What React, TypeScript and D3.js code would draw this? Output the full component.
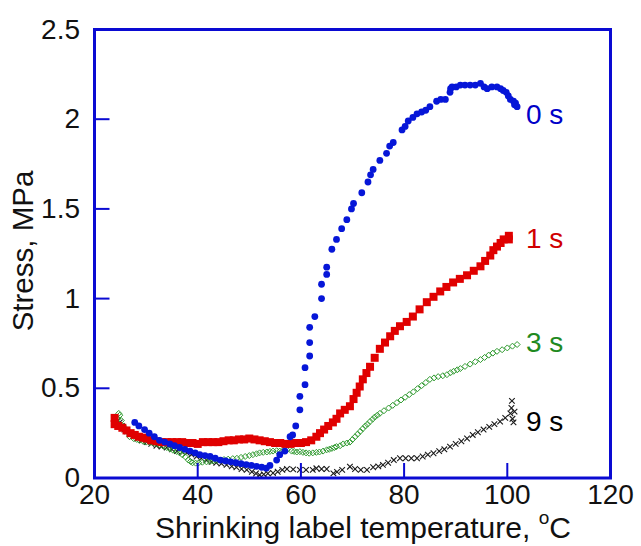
import React from 'react';
import * as d3 from 'd3';

// stress vs temperature, one list of [T (°C), stress (MPa)] per holding time
const series0s: [number, number][] = [
  [27.8, 0.31], [28.6, 0.29], [29.7, 0.27], [30.6, 0.25], [31.6, 0.23], [32.6, 0.21], [33.6, 0.2],
  [34.6, 0.19], [35.5, 0.18], [36.5, 0.17], [37.5, 0.16], [38.5, 0.15], [39.5, 0.14], [40.4, 0.13],
  [41.4, 0.125], [42.4, 0.12], [43.4, 0.11], [44.4, 0.1], [45.4, 0.095], [46.4, 0.09], [47.4, 0.085],
  [48.4, 0.08], [49.4, 0.075], [50.4, 0.07], [51.4, 0.065], [52.4, 0.06], [53.3, 0.055], [54.0, 0.07],
  [55.3, 0.1], [55.9, 0.13], [56.9, 0.15], [57.9, 0.23], [58.4, 0.24], [59.0, 0.29], [59.8, 0.38],
  [59.8, 0.455], [60.8, 0.52], [60.8, 0.615], [61.7, 0.68], [61.7, 0.755], [61.7, 0.84], [62.7, 0.9],
  [64.0, 1.0], [64.0, 1.08], [65.0, 1.135], [65.0, 1.175], [66.0, 1.275], [66.9, 1.33], [67.9, 1.39],
  [68.9, 1.44], [69.8, 1.5], [70.2, 1.53], [71.8, 1.59], [73.0, 1.65], [73.5, 1.69], [74.0, 1.72],
  [75.3, 1.77], [76.6, 1.81], [77.2, 1.85], [77.9, 1.87], [79.6, 1.94], [80.2, 1.96], [80.8, 1.99],
  [81.7, 2.01], [82.5, 2.03], [83.4, 2.04], [84.2, 2.05], [85.0, 2.07], [86.3, 2.1], [87.1, 2.11],
  [88.0, 2.11], [88.9, 2.15], [89.0, 2.17], [89.3, 2.18], [90.1, 2.18], [90.9, 2.19], [91.8, 2.19],
  [92.8, 2.19], [93.8, 2.19], [94.8, 2.2], [95.5, 2.18], [96.1, 2.17], [97.0, 2.18], [98.0, 2.18],
  [98.7, 2.17], [99.2, 2.16], [99.8, 2.15], [100.2, 2.13], [100.6, 2.11], [101.2, 2.1], [101.6, 2.09],
  [101.4, 2.08], [101.9, 2.07],
];

const series1s: [number, number][] = [
  [23.9, 0.335], [23.9, 0.3], [24.6, 0.29], [25.4, 0.28], [26.2, 0.265], [27.0, 0.25], [27.8, 0.24],
  [28.6, 0.23], [29.4, 0.225], [30.1, 0.22], [31.0, 0.21], [32.0, 0.205], [33.0, 0.2], [34.0, 0.2],
  [35.0, 0.2], [36.0, 0.2], [37.0, 0.2], [38.0, 0.195], [39.0, 0.195], [40.0, 0.19], [41.0, 0.2],
  [42.0, 0.2], [43.0, 0.2], [44.0, 0.2], [45.0, 0.205], [46.0, 0.21], [47.0, 0.21], [48.0, 0.215],
  [49.0, 0.215], [50.0, 0.22], [51.0, 0.215], [52.0, 0.21], [53.0, 0.205], [54.0, 0.2], [55.0, 0.195],
  [56.0, 0.195], [57.0, 0.19], [58.0, 0.19], [59.0, 0.195], [60.0, 0.195], [61.0, 0.2], [62.0, 0.21],
  [63.0, 0.23], [63.7, 0.25], [64.5, 0.27], [65.3, 0.29], [66.2, 0.31], [66.9, 0.33], [67.6, 0.36],
  [68.5, 0.38], [69.5, 0.4], [70.2, 0.44], [70.8, 0.475], [71.4, 0.51], [72.0, 0.55], [72.7, 0.585],
  [73.4, 0.62], [74.3, 0.67], [75.3, 0.72], [76.3, 0.755], [77.3, 0.79], [78.2, 0.82], [79.2, 0.846],
  [80.5, 0.87], [81.7, 0.9], [83.0, 0.94], [84.4, 0.98], [85.7, 1.01], [87.0, 1.04], [88.2, 1.065],
  [89.5, 1.09], [90.8, 1.11], [92.2, 1.13], [93.5, 1.155], [94.8, 1.18], [95.7, 1.21], [96.7, 1.24],
  [97.3, 1.27], [98.0, 1.29], [98.7, 1.31], [99.3, 1.33], [100.3, 1.35], [100.3, 1.33],
];

const series3s: [number, number][] = [
  [24.5, 0.33], [24.7, 0.36], [24.9, 0.35], [25.2, 0.32], [25.6, 0.29], [26.2, 0.26], [26.8, 0.23],
  [27.6, 0.22], [28.2, 0.215], [28.7, 0.21], [29.4, 0.205], [30.0, 0.2], [30.7, 0.198], [31.3, 0.195],
  [32.0, 0.19], [32.6, 0.185], [33.3, 0.178], [34.0, 0.17], [34.6, 0.162], [35.2, 0.155], [35.9, 0.148],
  [36.5, 0.14], [37.0, 0.13], [37.6, 0.118], [38.2, 0.1], [38.6, 0.092], [39.0, 0.085], [39.6, 0.083],
  [40.2, 0.085], [40.9, 0.088], [41.7, 0.09], [42.4, 0.092], [43.0, 0.095], [43.7, 0.098], [44.3, 0.1],
  [45.1, 0.103], [45.9, 0.105], [46.8, 0.108], [47.6, 0.11], [48.4, 0.115], [49.2, 0.12], [50.0, 0.125],
  [50.7, 0.13], [51.4, 0.135], [52.0, 0.14], [52.7, 0.143], [53.4, 0.145], [54.0, 0.148], [54.6, 0.15],
  [55.3, 0.152], [55.9, 0.15], [56.6, 0.155], [57.3, 0.157], [58.2, 0.15], [58.7, 0.148], [59.2, 0.145],
  [59.8, 0.147], [60.4, 0.143], [61.0, 0.14], [61.6, 0.138], [62.3, 0.14], [63.0, 0.143], [63.6, 0.145],
  [64.3, 0.15], [65.0, 0.157], [65.5, 0.16], [66.0, 0.165], [66.5, 0.17], [66.9, 0.175], [67.6, 0.18],
  [68.2, 0.19], [68.9, 0.195], [69.5, 0.2], [70.0, 0.215], [70.5, 0.23], [71.0, 0.245], [71.5, 0.26],
  [72.0, 0.275], [72.5, 0.29], [72.9, 0.3], [73.4, 0.315], [73.9, 0.328], [74.3, 0.34], [74.8, 0.35],
  [75.3, 0.36], [76.1, 0.375], [77.0, 0.39], [77.8, 0.405], [78.6, 0.42], [79.4, 0.435], [80.2, 0.45],
  [81.0, 0.465], [81.8, 0.48], [82.6, 0.498], [83.4, 0.515], [84.2, 0.532], [85.0, 0.55], [85.8, 0.558],
  [86.6, 0.565], [87.5, 0.57], [88.3, 0.576], [89.0, 0.587], [89.6, 0.595], [90.3, 0.603], [90.9, 0.61],
  [91.8, 0.622], [92.8, 0.635], [93.8, 0.648], [94.8, 0.66], [95.6, 0.672], [96.4, 0.685], [97.2, 0.696],
  [98.0, 0.706], [99.0, 0.715], [100.0, 0.725], [101.0, 0.735], [101.9, 0.744],
];

const series9s: [number, number][] = [
  [24.5, 0.32], [24.9, 0.31], [25.3, 0.29], [25.8, 0.27], [26.3, 0.26], [26.8, 0.25], [27.5, 0.235],
  [28.3, 0.22], [29.2, 0.21], [30.1, 0.2], [31.0, 0.19], [32.0, 0.18], [33.0, 0.175], [34.0, 0.17],
  [35.0, 0.16], [36.0, 0.15], [37.0, 0.145], [37.9, 0.14], [38.8, 0.13], [39.8, 0.12], [40.7, 0.11],
  [41.7, 0.1], [42.7, 0.09], [43.6, 0.085], [44.6, 0.08], [45.6, 0.073], [46.6, 0.065], [47.5, 0.06],
  [48.5, 0.05], [49.5, 0.045], [50.5, 0.035], [51.3, 0.025], [52.0, 0.017], [52.8, 0.02], [53.6, 0.025],
  [54.6, 0.028], [55.5, 0.035], [56.4, 0.045], [57.3, 0.05], [58.5, 0.048], [59.8, 0.045], [61.0, 0.045],
  [62.3, 0.045], [63.0, 0.054], [64.0, 0.05], [65.0, 0.05], [66.3, 0.026], [67.0, 0.034], [68.0, 0.045],
  [69.5, 0.063], [70.5, 0.05], [71.6, 0.045], [72.8, 0.045], [74.0, 0.06], [75.0, 0.065], [75.9, 0.073],
  [76.9, 0.085], [78.0, 0.1], [79.2, 0.11], [80.3, 0.11], [81.4, 0.11], [82.5, 0.11], [83.6, 0.12],
  [84.6, 0.13], [85.7, 0.138], [86.8, 0.15], [87.8, 0.16], [88.9, 0.175], [90.0, 0.19], [91.1, 0.205],
  [92.2, 0.22], [93.3, 0.24], [94.3, 0.255], [95.4, 0.27], [96.5, 0.285], [97.5, 0.3], [98.6, 0.315],
  [99.6, 0.335], [100.6, 0.36], [100.9, 0.43], [101.0, 0.33], [101.2, 0.31], [101.4, 0.37], [100.8, 0.39],
];

const xTicks = [20, 40, 60, 80, 100, 120];
const yTicks = [0, 0.5, 1, 1.5, 2, 2.5];
const seriesLabels = ['0 s', '1 s', '3 s', '9 s'];

const FONT = 'Arial, "Liberation Sans", sans-serif';
const FRAME = '#0a0ad2';

export default function App() {
  const x = d3.scaleLinear().domain([20, 120]).range([94.5, 610.5]);
  const y = d3.scaleLinear().domain([0, 2.5]).range([478, 29.5]);

  // label anchors in data units (just right of each curve's end)
  const labelPos: { text: string; s: number; color: string }[] = [
    { text: seriesLabels[0], s: 2.03, color: '#0000c8' },
    { text: seriesLabels[1], s: 1.34, color: '#d00000' },
    { text: seriesLabels[2], s: 0.76, color: '#1f8a1f' },
    { text: seriesLabels[3], s: 0.32, color: '#000000' },
  ];

  const diamond = 'M0,-3L3,0L0,3L-3,0Z';
  const cross = 'M-2.8,-2.8L2.8,2.8M-2.8,2.8L2.8,-2.8';

  return (
    <svg width={641} height={546} style={{ position: 'absolute', left: 0, top: 0, background: '#fff' }}>
      {/* data */}
      <g>
        {series9s.map(([t, s], i) => (
          <path key={'k' + i} d={cross} transform={`translate(${x(t)},${y(s)})`} stroke="#1a1a1a" strokeWidth={1.1} fill="none" />
        ))}
        {series3s.map(([t, s], i) => (
          <path key={'g' + i} d={diamond} transform={`translate(${x(t)},${y(s)})`} stroke="#2f9a2f" strokeWidth={1} fill="none" />
        ))}
        {series1s.map(([t, s], i) => (
          <rect key={'r' + i} x={x(t) - 4} y={y(s) - 4} width={8} height={8} fill="#e00000" />
        ))}
        {series0s.map(([t, s], i) => (
          <circle key={'b' + i} cx={x(t)} cy={y(s)} r={3.4} fill="#0616d8" />
        ))}
      </g>

      {/* frame and inward ticks */}
      <rect x={x(20)} y={y(2.5)} width={x(120) - x(20)} height={y(0) - y(2.5)} fill="none" stroke={FRAME} strokeWidth={3} />
      {yTicks.slice(1, -1).map((v) => (
        <line key={'yt' + v} x1={x(20)} x2={x(20) + 15} y1={y(v)} y2={y(v)} stroke={FRAME} strokeWidth={2} />
      ))}
      {xTicks.slice(1, -1).map((v) => (
        <line key={'xt' + v} x1={x(v)} x2={x(v)} y1={y(0)} y2={y(0) - 15} stroke={FRAME} strokeWidth={2} />
      ))}

      {/* tick labels */}
      {yTicks.map((v) => (
        <text key={'yl' + v} x={80} y={y(v) + 9} textAnchor="end" fontFamily={FONT} fontSize={28} fill="#111">
          {String(v)}
        </text>
      ))}
      {xTicks.map((v) => (
        <text key={'xl' + v} x={x(v)} y={503.5} textAnchor="middle" fontFamily={FONT} fontSize={28} fill="#111">
          {String(v)}
        </text>
      ))}

      {/* series labels */}
      {labelPos.map((l) => (
        <text key={l.text} x={526} y={y(l.s) + 10} fontFamily={FONT} fontSize={28} fill={l.color}>
          {l.text}
        </text>
      ))}

      {/* axis titles */}
      <text x={363} y={537.5} textAnchor="middle" fontFamily={FONT} fontSize={30} fill="#111">
        Shrinking label temperature, <tspan fontSize={19} dy={-14}>o</tspan>
        <tspan dy={14}>C</tspan>
      </text>
      <text transform="translate(33,251) rotate(-90)" textAnchor="middle" fontFamily={FONT} fontSize={29.5} fill="#111">
        Stress, MPa
      </text>
    </svg>
  );
}
